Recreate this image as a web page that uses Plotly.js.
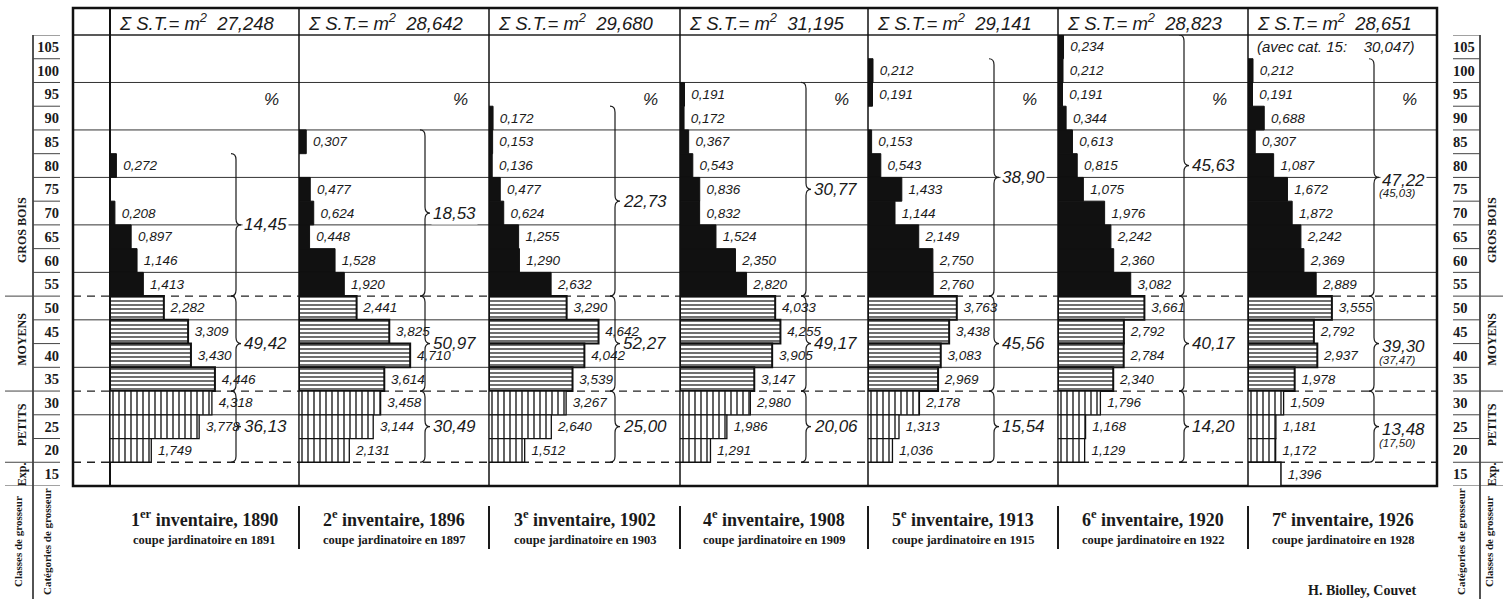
<!DOCTYPE html>
<html><head><meta charset="utf-8">
<script src="https://cdn.plot.ly/plotly-3.0.1.min.js"></script>
<style>html,body{margin:0;padding:0;background:#fff;}#chart{width:1503px;height:599px;}</style>
</head><body><div id="chart"></div>
<script>
// ---------------- DATA ----------------
const grosClasses   = [105,100,95,90,85,80,75,70,65,60,55];
const moyensClasses = [50,45,40,35];
const petitsClasses = [30,25,20];
const expClasses    = [15];
const scaleClasses  = [105,100,95,90,85,80,75,70,65,60,55,50,45,40,35,30,25,20,15];

const ordinals        = ['1<sup>er</sup>','2<sup>e</sup>','3<sup>e</sup>','4<sup>e</sup>','5<sup>e</sup>','6<sup>e</sup>','7<sup>e</sup>'];
const inventaireYears = [1890,1896,1902,1908,1913,1920,1926];
const coupeYears      = [1891,1897,1903,1909,1915,1922,1928];
const totals          = [27.248,28.642,29.680,31.195,29.141,28.823,28.651];
const total1926AvecExp = 30.047;

const gros1890 = [null,null,null,null,null,0.272,null,0.208,0.897,1.146,1.413];
const gros1896 = [null,null,null,null,0.307,null,0.477,0.624,0.448,1.528,1.920];
const gros1902 = [null,null,null,0.172,0.153,0.136,0.477,0.624,1.255,1.290,2.632];
const gros1908 = [null,null,0.191,0.172,0.367,0.543,0.836,0.832,1.524,2.350,2.820];
const gros1913 = [null,0.212,0.191,null,0.153,0.543,1.433,1.144,2.149,2.750,2.760];
const gros1920 = [0.234,0.212,0.191,0.344,0.613,0.815,1.075,1.976,2.242,2.360,3.082];
const gros1926 = [null,0.212,0.191,0.688,0.307,1.087,1.672,1.872,2.242,2.369,2.889];

const moyens1890 = [2.282,3.309,3.430,4.446];
const moyens1896 = [2.441,3.825,4.710,3.614];
const moyens1902 = [3.290,4.642,4.042,3.539];
const moyens1908 = [4.033,4.255,3.905,3.147];
const moyens1913 = [3.763,3.438,3.083,2.969];
const moyens1920 = [3.661,2.792,2.784,2.340];
const moyens1926 = [3.555,2.792,2.937,1.978];

const petits1890 = [4.318,3.778,1.749];
const petits1896 = [3.458,3.144,2.131];
const petits1902 = [3.267,2.640,1.512];
const petits1908 = [2.980,1.986,1.291];
const petits1913 = [2.178,1.313,1.036];
const petits1920 = [1.796,1.168,1.129];
const petits1926 = [1.509,1.181,1.172];

const exp1926 = [1.396];

const pctGros   = [14.45,18.53,22.73,30.77,38.90,45.63,47.22];
const pctMoyens = [49.42,50.97,52.27,49.17,45.56,40.17,39.30];
const pctPetits = [36.13,30.49,25.00,20.06,15.54,14.20,13.48];
const pctAvecExp1926 = [45.03,37.47,17.50]; // gros, moyens, petits

// ---------------- BUILD ----------------
const grosAll   = [gros1890,gros1896,gros1902,gros1908,gros1913,gros1920,gros1926];
const moyensAll = [moyens1890,moyens1896,moyens1902,moyens1908,moyens1913,moyens1920,moyens1926];
const petitsAll = [petits1890,petits1896,petits1902,petits1908,petits1913,petits1920,petits1926];
const expAll    = [null,null,null,null,null,null,exp1926];

const W = 1503, H = 599;
const PX = v => v / W, PY = v => 1 - v / H;
const lefts = [110,299,489,680,868,1058,1248];
const rightEdge = 1437;
const PXU = 23.6;                    // pixels per m2
const FL = 73, FT = 8, HB = 35, FB = 486;
const yLo = 12.5, yHi = 107.5;
const UY = (FB - HB) / (yHi - yLo);  // px per y unit
const fmt = (v, d) => v.toFixed(d).replace('.', ',');

const HAND = 'Liberation Sans, Arial, sans-serif';
const SERIF = 'Liberation Serif, DejaVu Serif, serif';
const INK = '#1a1a1a';

const traces = [];
const layout = {
  width: W, height: H,
  margin: {l:0, r:0, t:0, b:0},
  paper_bgcolor: '#fff', plot_bgcolor: 'rgba(0,0,0,0)',
  showlegend: false, barmode: 'overlay',
  yaxis: {domain: [PY(FB), PY(HB)], range: [yLo, yHi], visible: false, fixedrange: true},
  yaxis2: {overlaying: 'y', anchor: 'free', position: PX(59), side: 'left', range: [yLo, yHi],
           tickvals: scaleClasses, ticktext: scaleClasses.map(String), showgrid: false, zeroline: false,
           showline: false, ticks: '', tickfont: {family: SERIF, size: 14.5, color: INK, weight: 'bold'}},
  yaxis3: {overlaying: 'y', anchor: 'free', position: PX(1452), side: 'right', range: [yLo, yHi],
           tickvals: scaleClasses, ticktext: scaleClasses.map(String), showgrid: false, zeroline: false,
           showline: false, ticks: '', tickfont: {family: SERIF, size: 14.5, color: INK, weight: 'bold'}},
  shapes: [], annotations: []
};

// keep only the classes that have a value
function pick(vals, classes) {
  const x = [], y = [], t = [];
  vals.forEach((v, k) => { if (v != null) { x.push(v); y.push(classes[k]); t.push('\u00a0' + fmt(v, 3)); } });
  return {x: x, y: y, text: t};
}
const valueFont = {family: HAND, size: 13.5, color: INK, style: 'italic'};
const pctFont = {family: HAND, size: 17, color: INK, style: 'italic'};

for (let i = 0; i < 7; i++) {
  const xa = i === 0 ? 'x' : 'x' + (i + 1);
  const key = i === 0 ? 'xaxis' : 'xaxis' + (i + 1);
  const l = lefts[i], r = (i < 6 ? lefts[i + 1] : rightEdge);
  layout[key] = {domain: [PX(l), PX(r)], range: [0, (r - l) / PXU], visible: false, fixedrange: true, anchor: 'y'};

  const common = {type: 'bar', orientation: 'h', xaxis: xa, yaxis: 'y', width: 5, hoverinfo: 'skip',
                  textposition: 'outside', cliponaxis: false, constraintext: 'none', textangle: 0, textfont: valueFont};
  traces.push(Object.assign({}, common, pick(grosAll[i], grosClasses), {
    marker: {color: '#111', line: {color: '#111', width: 1}}
  }));
  traces.push(Object.assign({}, common, pick(moyensAll[i], moyensClasses), {
    marker: {color: '#fff', pattern: {shape: '-', fgcolor: '#111', bgcolor: '#fff', size: 4, solidity: 0.3},
             line: {color: '#111', width: 2}}
  }));
  traces.push(Object.assign({}, common, pick(petitsAll[i], petitsClasses), {
    marker: {color: '#fff', pattern: {shape: '|', fgcolor: '#111', bgcolor: '#fff', size: 6, solidity: 0.22},
             line: {color: '#111', width: 1.3}}
  }));
  if (expAll[i]) {
    traces.push(Object.assign({}, common, pick(expAll[i], expClasses), {
      marker: {color: '#fff', line: {color: '#111', width: 1.5}}
    }));
  }

  // braces
  const bx = 126 / PXU, dx = 5 / PXU, rr = 6 / UY;
  let topClass = 0;
  grosAll[i].forEach((v, k) => { if (v != null && grosClasses[k] > topClass) topClass = grosClasses[k]; });
  const groups = [
    [topClass + 2.5, 52.5, pctGros[i], 0],
    [52.5, 32.5, pctMoyens[i], 1],
    [32.5, 17.5, pctPetits[i], 2]
  ];
  groups.forEach(g => {
    const [yt, yb, pct, gi] = g;
    const ym = (yt + yb) / 2;
    const path = `M ${bx - dx},${yt} Q ${bx},${yt} ${bx},${yt - rr} L ${bx},${ym + rr} Q ${bx},${ym} ${bx + dx},${ym} ` +
                 `Q ${bx},${ym} ${bx},${ym - rr} L ${bx},${yb + rr} Q ${bx},${yb} ${bx - dx},${yb}`;
    layout.shapes.push({type: 'path', xref: xa, yref: 'y', path: path, line: {color: INK, width: 1.2}});
    const two = (i === 6);
    layout.annotations.push({xref: xa, yref: 'y', x: bx + 6 / PXU, y: ym, yshift: two ? -3 : 0, xanchor: 'left', yanchor: 'middle',
      text: fmt(pct, 2), showarrow: false, bgcolor: gi === 0 ? '#fff' : 'rgba(0,0,0,0)', borderpad: 1, font: pctFont});
    if (two) {
      layout.annotations.push({xref: xa, yref: 'y', x: bx + 3 / PXU, y: ym, yshift: -16, xanchor: 'left', yanchor: 'middle',
        text: '(' + fmt(pctAvecExp1926[gi], 2) + ')', showarrow: false,
        font: {family: HAND, size: 11.5, color: INK, style: 'italic'}});
    }
  });

  // % sign
  layout.annotations.push({xref: xa, yref: 'y', x: 152 / PXU, y: 94, xanchor: 'left', yanchor: 'middle',
    text: '%', showarrow: false, font: pctFont});

  // header
  layout.annotations.push({xref: 'paper', yref: 'paper', x: PX(l + 7), y: PY(22), xanchor: 'left', yanchor: 'middle',
    text: 'Σ S.T.= m<sup>2</sup>\u00a0 ' + fmt(totals[i], 3), showarrow: false,
    font: {family: HAND, size: 18.5, color: INK, style: 'italic'}});

  // bottom titles
  layout.annotations.push({xref: 'paper', yref: 'paper', x: PX((l + r) / 2), y: PY(518), xanchor: 'center', yanchor: 'middle',
    text: ordinals[i] + ' inventaire, ' + inventaireYears[i], showarrow: false,
    font: {family: SERIF, size: 18, color: INK, weight: 'bold'}});
  layout.annotations.push({xref: 'paper', yref: 'paper', x: PX((l + r) / 2), y: PY(540), xanchor: 'center', yanchor: 'middle',
    text: 'coupe jardinatoire en ' + coupeYears[i], showarrow: false,
    font: {family: SERIF, size: 12.5, color: INK, weight: 'bold'}});
  if (i > 0) {
    layout.shapes.push({type: 'line', xref: 'paper', yref: 'paper', x0: PX(l), x1: PX(l), y0: PY(506), y1: PY(549),
      line: {color: INK, width: 2}});
  }
}

// P7 extra header
layout.annotations.push({xref: 'paper', yref: 'y', x: PX(lefts[6] + 7), y: 105, xanchor: 'left', yanchor: 'middle',
  text: '(avec cat. 15:\u00a0\u00a0\u00a0 ' + fmt(total1926AvecExp, 3) + ')', showarrow: false,
  font: {family: HAND, size: 15, color: INK, style: 'italic'}});

// invisible anchor traces for scale axes
traces.push({type: 'scatter', x: [0], y: [15], xaxis: 'x', yaxis: 'y2', mode: 'markers', marker: {opacity: 0}, hoverinfo: 'skip'});
traces.push({type: 'scatter', x: [0], y: [15], xaxis: 'x', yaxis: 'y3', mode: 'markers', marker: {opacity: 0}, hoverinfo: 'skip'});

// grid lines
const S = layout.shapes;
[97.5, 87.5, 77.5, 67.5, 57.5, 47.5, 37.5, 27.5].forEach(y => S.push({type: 'line', layer: 'below', xref: 'paper', yref: 'y',
  x0: PX(FL), x1: PX(rightEdge), y0: y, y1: y, line: {color: '#333', width: 1}}));
[52.5, 32.5, 17.5].forEach(y => S.push({type: 'line', layer: 'below', xref: 'paper', yref: 'y',
  x0: PX(FL), x1: PX(rightEdge), y0: y, y1: y, line: {color: '#222', width: 1.3, dash: '8px,6px'}}));
S.push({type: 'line', layer: 'below', xref: 'paper', yref: 'paper', x0: PX(FL), x1: PX(rightEdge), y0: PY(HB), y1: PY(HB),
  line: {color: '#222', width: 1.3}});
lefts.forEach(x => S.push({type: 'line', layer: 'below', xref: 'paper', yref: 'paper', x0: PX(x), x1: PX(x), y0: PY(FT), y1: PY(FB),
  line: {color: '#111', width: x === 110 ? 2 : 1.5}}));
S.push({type: 'rect', layer: 'below', xref: 'paper', yref: 'paper', x0: PX(FL), x1: PX(rightEdge), y0: PY(FB), y1: PY(FT),
  line: {color: '#111', width: 2.5}});

// scales
const catBounds = [52.5, 32.5, 17.5, 12.5];
S.push({type: 'line', xref: 'paper', yref: 'paper', x0: PX(33), x1: PX(33), y0: PY(HB), y1: 0, line: {color: INK, width: 1.5}});
S.push({type: 'line', xref: 'paper', yref: 'paper', x0: PX(1480), x1: PX(1480), y0: PY(HB), y1: 0, line: {color: INK, width: 1.5}});
for (let b = yHi; b >= yLo; b -= 5) {
  const isCat = catBounds.includes(b);
  S.push({type: 'line', xref: 'paper', yref: 'y', x0: PX(isCat ? 5 : 33), x1: PX(60), y0: b, y1: b, line: {color: '#444', width: 1}});
  S.push({type: 'line', xref: 'paper', yref: 'y', x0: PX(1453), x1: PX(isCat ? 1503 : 1480), y0: b, y1: b, line: {color: '#444', width: 1}});
}
const cats = [['GROS BOIS', 66.4], ['MOYENS', 43.3], ['PETITS', 25.3], ['Exp.', 15]];
cats.forEach(c => {
  [22, 1492].forEach(x => layout.annotations.push({xref: 'paper', yref: 'y', x: PX(x), y: c[1], textangle: -90,
    text: c[0], showarrow: false, xanchor: 'center', yanchor: 'middle', font: {family: SERIF, size: 12, color: INK, weight: 'bold'}}));
});
[['Classes de grosseur', 18], ['Catégories de grosseur', 47], ['Catégories de grosseur', 1461], ['Classes de grosseur', 1489]].forEach(c => {
  layout.annotations.push({xref: 'paper', yref: 'paper', x: PX(c[1]), y: PY(542), textangle: -90, text: c[0], showarrow: false,
    xanchor: 'center', yanchor: 'middle', font: {family: SERIF, size: 11, color: INK, weight: 'bold'}});
});

layout.annotations.push({xref: 'paper', yref: 'paper', x: PX(1362), y: PY(590), xanchor: 'center', yanchor: 'middle',
  text: 'H. Biolley, Couvet', showarrow: false, font: {family: SERIF, size: 14, color: INK, weight: 'bold'}});

Plotly.newPlot('chart', traces, layout, {staticPlot: true, displayModeBar: false});
</script>
</body></html>
